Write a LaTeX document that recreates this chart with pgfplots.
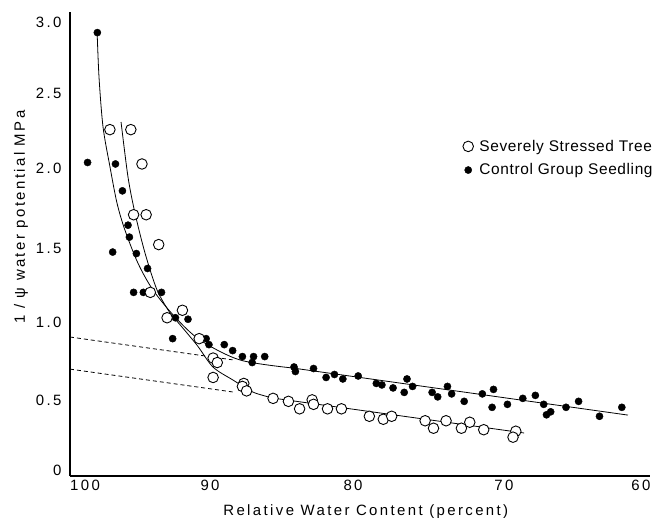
\documentclass[border=0pt]{standalone}
\usepackage{fontspec}
\setmainfont{Liberation Sans}
\newfontfamily\spaced{Liberation Sans}[LetterSpace=16]
\newfontfamily\legfont{Liberation Sans}[LetterSpace=4]
\usepackage{pgfplots}
\pgfplotsset{compat=1.18}
\begin{document}
\begin{tikzpicture}
\path[use as bounding box] (-70bp,-42bp) rectangle (582bp,476bp);
\begin{axis}[
  at={(0,0)}, anchor=south west,
  scale only axis, width=580bp, height=464bp,
  x dir=reverse,
  xmin=59.28, xmax=100.86, ymin=-0.04, ymax=3.068,
  axis x line*=bottom, axis y line*=left,
  axis line style={-, line width=1.1pt},
  xtick={99.78,90.82,80.57,69.75,59.93}, xticklabels={100,90,80,70,60},
  ytick={0,0.469,0.991,1.487,2.023,2.525,3.0}, yticklabels={0,0.5,1.0,1.5,2.0,2.5,3.0},
  major tick length=0pt,
  tick label style={font=\spaced\fontsize{15}{18}\selectfont},
  yticklabel style={xshift=-5bp},
  xticklabel style={yshift=-1bp},
  xlabel={Relative Water Content (percent)},
  xlabel style={at={(axis description cs:0.51,0)}, anchor=base, yshift=-39bp, font=\spaced\fontsize{15}{18}\selectfont},
  ylabel={1 / ψ water potential MPa},
  ylabel style={at={(axis description cs:-0.0845,0.558)}, anchor=center, font=\spaced\fontsize{15}{18}\selectfont},
  legend style={draw=none, fill=none, at={(axis description cs:0.672,0.733)}, anchor=north west, font=\legfont\fontsize{15.5}{18}\selectfont, row sep=7pt, column sep=4pt},
  legend cell align=left,
  reverse legend,
  clip=false,
]
% fitted curves
\addplot[black, line width=0.8pt, smooth, forget plot] coordinates {
(98.92,2.947) (98.78,2.632) (98.49,2.297) (97.99,2.029) (97.49,1.788) (96.92,1.607)
(95.99,1.386) (94.91,1.206) (93.33,1.025) (91.54,0.871) (88.67,0.737) (84.87,0.683)};
\addplot[black, line width=0.8pt, forget plot] coordinates {(84.87,0.683) (60.86,0.368)};
\addplot[black, line width=0.8pt, smooth, forget plot] coordinates {
(97.20,2.331) (96.70,1.962) (96.20,1.721) (95.48,1.453) (94.62,1.206) (93.69,1.052)
(93.26,1.005) (91.76,0.837) (90.61,0.690) (89.18,0.603) (87.74,0.522) (86.31,0.482)};
\addplot[black, line width=0.8pt, forget plot] coordinates {(86.31,0.482) (68.3,0.248)};
\addplot[black, line width=0.8pt, dash pattern=on 4pt off 3pt, forget plot] coordinates {(100.86,0.891) (89.2,0.738)};
\addplot[black, line width=0.8pt, dash pattern=on 4pt off 3pt, forget plot] coordinates {(100.86,0.676) (89.2,0.523)};
% control group seedling
\addplot[only marks, mark=*, mark size=3.6pt, mark options={fill=black, draw=black}] coordinates {
(98.9,2.93) (99.6,2.06) (97.6,2.05) (97.1,1.87) (96.7,1.64) (96.6,1.56) (97.8,1.46) (96.1,1.45)
(95.3,1.35) (96.3,1.19) (95.6,1.19) (94.3,1.19) (93.3,1.02) (92.4,1.01) (93.5,0.88) (91.1,0.88)
(90.9,0.84) (89.8,0.84) (89.2,0.80) (88.5,0.76) (87.8,0.72) (87.7,0.76) (86.9,0.76) (84.8,0.69)
(84.7,0.66) (83.4,0.68) (82.5,0.62) (81.9,0.64) (81.3,0.61) (80.2,0.63) (78.9,0.58) (78.5,0.57)
(77.7,0.55) (76.9,0.52) (76.7,0.61) (76.3,0.56) (74.9,0.52) (74.5,0.49) (73.8,0.56) (73.5,0.51)
(72.6,0.46) (71.3,0.51) (70.6,0.42) (70.5,0.54) (69.5,0.44) (68.4,0.48) (67.5,0.50) (66.9,0.44)
(66.7,0.37) (66.4,0.39) (65.3,0.42) (64.4,0.46) (62.9,0.36) (61.3,0.42)};
\addlegendentry{Control Group Seedling}
% severely stressed tree
\addplot[only marks, mark=*, mark size=5.3pt, mark options={fill=white, draw=black, line width=0.9pt}] coordinates {
(98.0,2.28) (96.5,2.28) (95.7,2.05) (96.3,1.71) (95.4,1.71) (94.5,1.51) (95.1,1.19) (93.9,1.02)
(92.8,1.07) (91.6,0.88) (90.6,0.75) (90.3,0.72) (90.6,0.62) (88.4,0.58) (88.5,0.56) (88.2,0.53)
(86.3,0.48) (85.2,0.46) (84.4,0.41) (83.5,0.47) (83.4,0.44) (82.4,0.41) (81.4,0.41) (79.4,0.36)
(78.4,0.34) (77.8,0.36) (75.4,0.33) (74.8,0.28) (73.9,0.33) (72.8,0.28) (72.2,0.32) (71.2,0.27)
(68.9,0.26) (69.1,0.22)};
\addlegendentry{Severely Stressed Tree}
\end{axis}
\end{tikzpicture}
\end{document}
